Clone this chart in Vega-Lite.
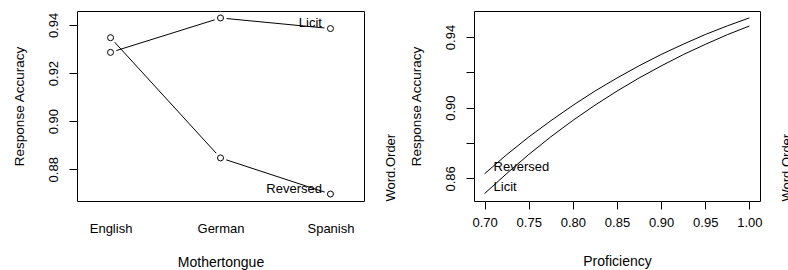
{
  "$schema": "https://vega.github.io/schema/vega-lite/v6.json",
  "padding": {"left": 11, "top": 10, "right": 0, "bottom": 0},
  "spacing": 10,
  "config": {
    "font": "Liberation Sans",
    "view": {"stroke": "black", "strokeWidth": 1},
    "axis": {
      "labelFont": "Liberation Sans", "titleFont": "Liberation Sans",
      "labelFontSize": 13, "titleFontSize": 14, "titleFontWeight": "normal",
      "labelColor": "black", "titleColor": "black", "tickColor": "black",
      "domain": false, "grid": false, "tickSize": 8, "labelFlush": false, "labelOverlap": false
    },
    "text": {"font": "Liberation Sans", "fontSize": 13}
  },
  "datasets": {
    "mt": [
      {"Mothertongue": "English", "WordOrder": "Licit", "Accuracy": 0.9286},
      {"Mothertongue": "German", "WordOrder": "Licit", "Accuracy": 0.9429},
      {"Mothertongue": "Spanish", "WordOrder": "Licit", "Accuracy": 0.9385},
      {"Mothertongue": "English", "WordOrder": "Reversed", "Accuracy": 0.9347},
      {"Mothertongue": "German", "WordOrder": "Reversed", "Accuracy": 0.8847},
      {"Mothertongue": "Spanish", "WordOrder": "Reversed", "Accuracy": 0.8697}
    ],
    "prof": [
      {"Proficiency": 0.700, "WordOrder": "Reversed", "Accuracy": 0.8626},
      {"Proficiency": 0.725, "WordOrder": "Reversed", "Accuracy": 0.8734},
      {"Proficiency": 0.750, "WordOrder": "Reversed", "Accuracy": 0.8834},
      {"Proficiency": 0.775, "WordOrder": "Reversed", "Accuracy": 0.8926},
      {"Proficiency": 0.800, "WordOrder": "Reversed", "Accuracy": 0.9013},
      {"Proficiency": 0.825, "WordOrder": "Reversed", "Accuracy": 0.9094},
      {"Proficiency": 0.850, "WordOrder": "Reversed", "Accuracy": 0.9168},
      {"Proficiency": 0.875, "WordOrder": "Reversed", "Accuracy": 0.9237},
      {"Proficiency": 0.900, "WordOrder": "Reversed", "Accuracy": 0.9301},
      {"Proficiency": 0.925, "WordOrder": "Reversed", "Accuracy": 0.9359},
      {"Proficiency": 0.950, "WordOrder": "Reversed", "Accuracy": 0.9414},
      {"Proficiency": 0.975, "WordOrder": "Reversed", "Accuracy": 0.9463},
      {"Proficiency": 1.000, "WordOrder": "Reversed", "Accuracy": 0.9508},
      {"Proficiency": 0.700, "WordOrder": "Licit", "Accuracy": 0.8514},
      {"Proficiency": 0.725, "WordOrder": "Licit", "Accuracy": 0.8627},
      {"Proficiency": 0.750, "WordOrder": "Licit", "Accuracy": 0.8735},
      {"Proficiency": 0.775, "WordOrder": "Licit", "Accuracy": 0.8835},
      {"Proficiency": 0.800, "WordOrder": "Licit", "Accuracy": 0.8928},
      {"Proficiency": 0.825, "WordOrder": "Licit", "Accuracy": 0.9014},
      {"Proficiency": 0.850, "WordOrder": "Licit", "Accuracy": 0.9094},
      {"Proficiency": 0.875, "WordOrder": "Licit", "Accuracy": 0.9168},
      {"Proficiency": 0.900, "WordOrder": "Licit", "Accuracy": 0.9236},
      {"Proficiency": 0.925, "WordOrder": "Licit", "Accuracy": 0.9300},
      {"Proficiency": 0.950, "WordOrder": "Licit", "Accuracy": 0.9358},
      {"Proficiency": 0.975, "WordOrder": "Licit", "Accuracy": 0.9413},
      {"Proficiency": 1.000, "WordOrder": "Licit", "Accuracy": 0.9462}
    ]
  },
  "hconcat": [
    {
      "width": 287,
      "height": 190,
      "data": {"name": "mt"},
      "encoding": {
        "x": {
          "field": "Mothertongue", "type": "nominal",
          "scale": {"type": "point", "padding": 0.305},
          "axis": {"title": "Mothertongue", "ticks": false, "labelAngle": 0, "labelPadding": 21, "titlePadding": 20}
        }
      },
      "layer": [
        {
          "mark": {"type": "line", "color": "black", "strokeWidth": 1},
          "encoding": {
            "y": {
              "field": "Accuracy", "type": "quantitative",
              "scale": {"domain": [0.8668, 0.9458], "nice": false, "zero": false},
              "axis": {"title": "Response Accuracy", "values": [0.88, 0.9, 0.92, 0.94], "format": ".2f",
                       "labelAngle": -90, "labelAlign": "center", "labelBaseline": "bottom",
                       "labelPadding": 9, "titlePadding": 21, "titleFontSize": 13.5}
            },
            "detail": {"field": "WordOrder"}
          }
        },
        {
          "mark": {"type": "point", "shape": "circle", "filled": true, "color": "white", "opacity": 1, "size": 150},
          "encoding": {"y": {"field": "Accuracy", "type": "quantitative", "axis": null}}
        },
        {
          "mark": {"type": "point", "shape": "circle", "filled": false, "color": "black", "opacity": 1, "size": 36, "strokeWidth": 1},
          "encoding": {"y": {"field": "Accuracy", "type": "quantitative", "axis": null}}
        },
        {
          "transform": [{"filter": "datum.Mothertongue == 'Spanish'"}],
          "mark": {"type": "text", "align": "right", "baseline": "middle", "dx": -8.5, "dy": -5.5, "color": "black"},
          "encoding": {
            "text": {"field": "WordOrder"},
            "y": {
              "field": "Accuracy", "type": "quantitative",
              "axis": {"orient": "right", "title": "Word.Order", "labels": false, "ticks": false, "domain": false,
                       "titleAngle": -90, "titleAnchor": "start", "titleAlign": "left", "titleBaseline": "top",
                       "titlePadding": 20, "titleFontSize": 13}
            }
          }
        }
      ],
      "resolve": {"axis": {"y": "independent"}}
    },
    {
      "width": 286,
      "height": 190,
      "data": {"name": "prof"},
      "encoding": {
        "x": {
          "field": "Proficiency", "type": "quantitative",
          "scale": {"domain": [0.688, 1.012], "nice": false, "zero": false},
          "axis": {"title": "Proficiency", "values": [0.7, 0.75, 0.8, 0.85, 0.9, 0.95, 1.0], "format": ".2f",
                   "labelPadding": 7, "titlePadding": 25}
        }
      },
      "layer": [
        {
          "mark": {"type": "line", "color": "black", "strokeWidth": 1},
          "encoding": {
            "y": {
              "field": "Accuracy", "type": "quantitative",
              "scale": {"domain": [0.8472, 0.9547], "nice": false, "zero": false},
              "axis": {"title": "Response Accuracy", "values": [0.86, 0.88, 0.9, 0.92, 0.94],
                       "labelExpr": "abs(datum.value - 0.88) < 0.001 || abs(datum.value - 0.92) < 0.001 ? '' : format(datum.value, '.2f')",
                       "labelAngle": -90, "labelAlign": "center", "labelBaseline": "bottom",
                       "labelPadding": 9, "titlePadding": 21, "titleFontSize": 13.5}
            },
            "detail": {"field": "WordOrder"}
          }
        },
        {
          "transform": [{"filter": "datum.Proficiency == 0.7"}],
          "mark": {"type": "text", "align": "left", "baseline": "middle", "dx": 9, "dy": -6.5, "color": "black"},
          "encoding": {
            "text": {"field": "WordOrder"},
            "y": {
              "field": "Accuracy", "type": "quantitative",
              "axis": {"orient": "right", "title": "Word.Order", "labels": false, "ticks": false, "domain": false,
                       "titleAngle": -90, "titleAnchor": "start", "titleAlign": "left", "titleBaseline": "top",
                       "titlePadding": 20, "titleFontSize": 13}
            }
          }
        }
      ],
      "resolve": {"axis": {"y": "independent"}}
    }
  ]
}
